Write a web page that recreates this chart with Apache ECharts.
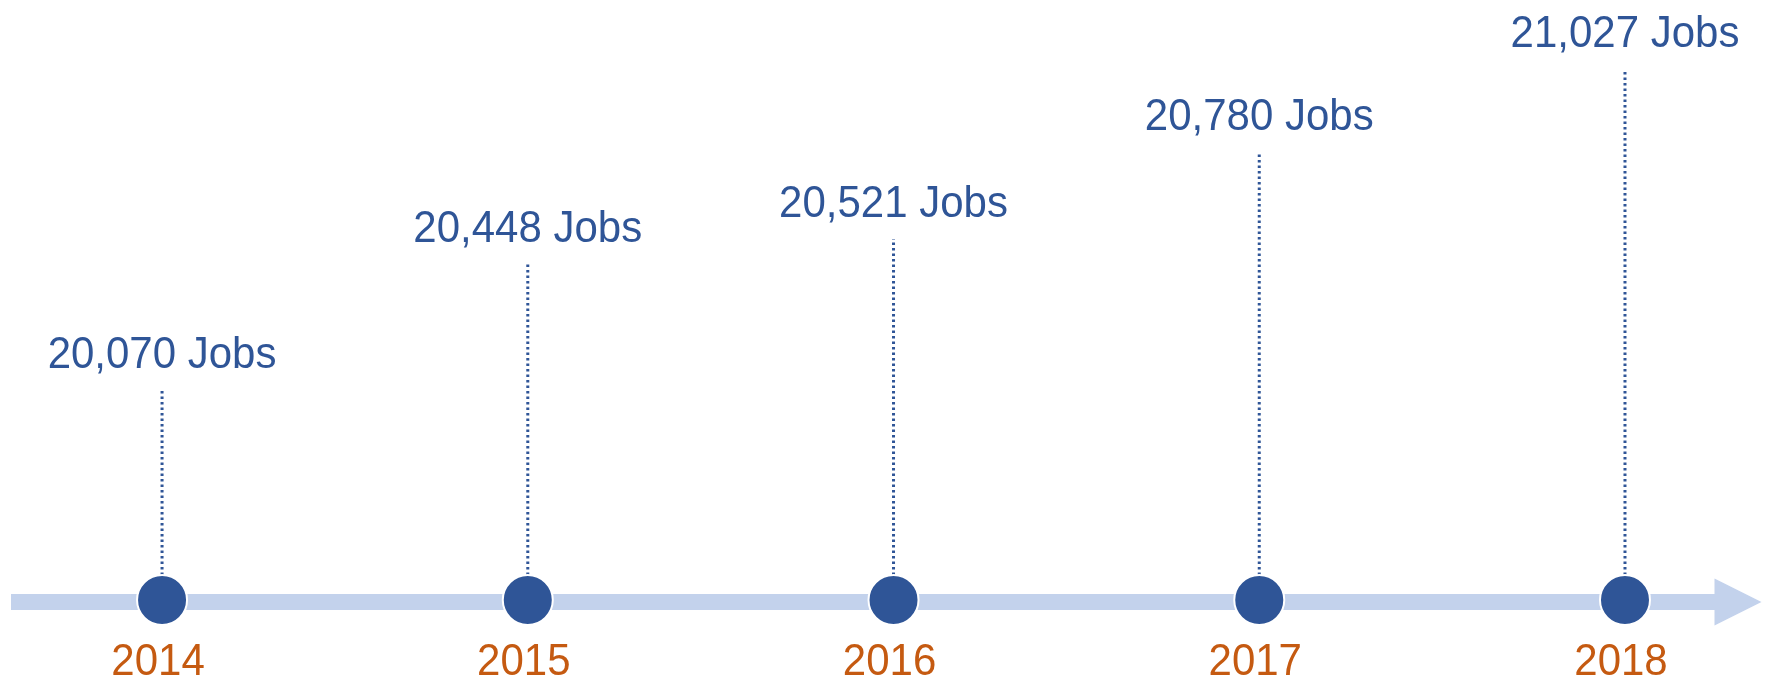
<!DOCTYPE html>
<html>
<head>
<meta charset="utf-8">
<script src="https://cdn.jsdelivr.net/npm/echarts@6/dist/echarts.min.js"></script>
<style>
  html, body { margin: 0; padding: 0; background: #fff; }
  #timeline { width: 1771px; height: 687px; }
</style>
</head>
<body>
<div id="timeline"></div>
<script>
// years on the timeline and jobs per year
var years = ['2014', '2015', '2016', '2017', '2018'];
var jobs = [20070, 20448, 20521, 20780, 21027];

var yMin = 19440, yMax = 21200;
var blue = '#2F5597', orange = '#C55A11';
var font = '42px "Liberation Sans", Arial, sans-serif';

var chart = echarts.init(document.getElementById('timeline'));

var option = {
    animation: false,
    grid: { left: 11, right: 33, top: 11, bottom: 85 },
    xAxis: {
        type: 'value',
        min: -0.413,
        max: 4.309,
        axisLine: {
            show: true,
            onZero: false,
            symbol: ['none', 'triangle'],
            symbolSize: [47, 47],
            symbolOffset: [0, 0],
            lineStyle: { color: '#C3D2EC', width: 16, cap: 'butt' }
        },
        axisTick: { show: false },
        axisLabel: { show: false },
        splitLine: { show: false }
    },
    yAxis: {
        type: 'value',
        min: yMin,
        max: yMax,
        show: false,
        splitLine: { show: false }
    },
    series: [{
        type: 'custom',
        clip: false,
        data: jobs.map(function (v, i) { return [i, v]; }),
        renderItem: function (params, api) {
            var i = api.value(0);
            var top = api.coord([i, api.value(1)]);
            var base = api.coord([i, yMin]);
            var r = 25;
            var cy = base[1] - 2;
            return {
                type: 'group',
                children: [{
                    type: 'line',
                    shape: { x1: base[0], y1: cy - r, x2: top[0], y2: top[1] },
                    style: { stroke: blue, lineWidth: 3, lineDash: [2.5, 3] }
                }, {
                    type: 'circle',
                    shape: { cx: base[0], cy: cy, r: r },
                    style: { fill: blue, stroke: '#fff', lineWidth: 2 }
                }, {
                    type: 'text',
                    x: top[0], y: top[1] - 12,
                    scaleY: 1.06,
                    style: {
                        x: 0, y: 0,
                        text: jobs[i].toLocaleString('en-US') + ' Jobs',
                        fill: blue,
                        font: font,
                        align: 'center', verticalAlign: 'bottom'
                    }
                }, {
                    type: 'text',
                    x: base[0] - 4, y: cy + 40,
                    scaleY: 1.06,
                    style: {
                        x: 0, y: 0,
                        text: years[i],
                        fill: orange,
                        font: font,
                        align: 'center', verticalAlign: 'top'
                    }
                }]
            };
        }
    }]
};

chart.setOption(option);
</script>
</body>
</html>
